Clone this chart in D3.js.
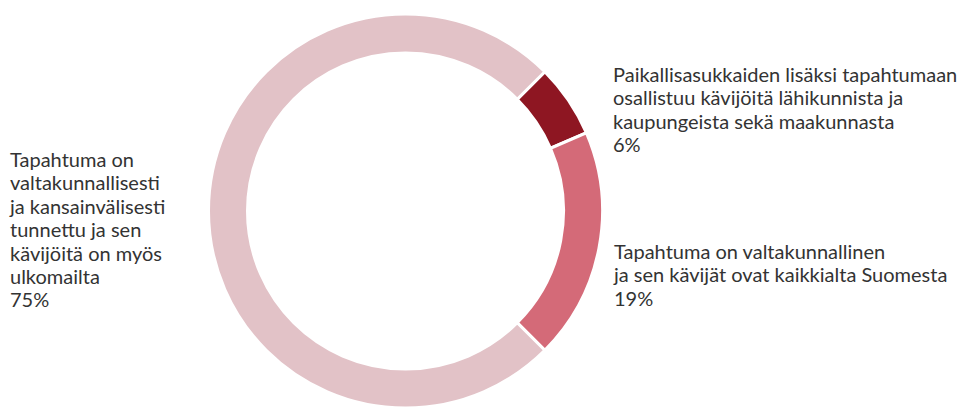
<!DOCTYPE html>
<html>
<head>
<meta charset="utf-8">
<script src="https://cdn.jsdelivr.net/npm/d3@7"></script>
<style>
  body { margin: 0; background: #fff; }
  text { font-family: Lato, "Open Sans", sans-serif; fill: #333; }
</style>
</head>
<body>
<script>
// data
const categories = [
  "Paikallisasukkaiden lisäksi tapahtumaan osallistuu kävijöitä lähikunnista ja kaupungeista sekä maakunnasta",
  "Tapahtuma on valtakunnallinen ja sen kävijät ovat kaikkialta Suomesta",
  "Tapahtuma on valtakunnallisesti ja kansainvälisesti tunnettu ja sen kävijöitä on myös ulkomailta"
];
const values = [6, 19, 75];
const labelLines = [
  ["Paikallisasukkaiden lisäksi tapahtumaan", "osallistuu kävijöitä lähikunnista ja", "kaupungeista sekä maakunnasta"],
  ["Tapahtuma on valtakunnallinen", "ja sen kävijät ovat kaikkialta Suomesta"],
  ["Tapahtuma on", "valtakunnallisesti", "ja kansainvälisesti", "tunnettu ja sen", "kävijöitä on myös", "ulkomailta"]
];
const colors = ["#8e1622", "#d46a78", "#e2c2c7"];

const width = 960, height = 407;
const cx = 405.5, cy = 211;
const outerR = 197, innerR = 158;
const lineH = 23.4;

// label anchor: x and y of first baseline
const labelPos = [
  { x: 613, y: 82 },
  { x: 614, y: 259 },
  { x: 10, y: 167 }
];

const svg = d3.select("body").append("svg")
  .attr("width", width)
  .attr("height", height);

const pie = d3.pie()
  .sort(null)
  .value(d => d)
  .startAngle(Math.PI / 4)
  .endAngle(Math.PI / 4 + 2 * Math.PI);

const arc = d3.arc().innerRadius(innerR).outerRadius(outerR);

const g = svg.append("g").attr("transform", `translate(${cx},${cy})`);

g.selectAll("path")
  .data(pie(values))
  .enter()
  .append("path")
  .attr("d", arc)
  .attr("fill", (d, i) => colors[i])
  .attr("stroke", "#fff")
  .attr("stroke-width", 3)
  .attr("stroke-linejoin", "miter");

const labels = svg.selectAll("text.label")
  .data(values)
  .enter()
  .append("text")
  .attr("class", "label")
  .attr("font-size", 20)
  .attr("x", (d, i) => labelPos[i].x)
  .attr("y", (d, i) => labelPos[i].y);

labels.each(function (d, i) {
  const t = d3.select(this);
  labelLines[i].concat([d + "%"]).forEach((line, j) => {
    t.append("tspan")
      .attr("x", labelPos[i].x)
      .attr("dy", j === 0 ? 0 : lineH)
      .text(line);
  });
});
</script>
</body>
</html>
